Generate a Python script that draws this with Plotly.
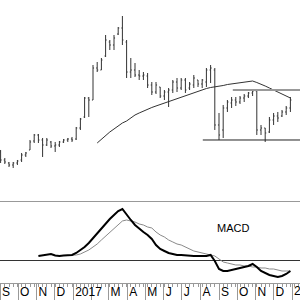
import pandas as pd
import plotly.graph_objects as go

# Weekly bars (Fridays), Sep 2016 - Dec 2017
dates = pd.date_range("2016-09-02", periods=70, freq="7D")

opens = [48, 40, 37, 35, 37, 40, 45, 50, 59, 65, 60, 55, 58, 54, 55, 58, 60, 61, 61, 72,
         83, 102, 100, 132, 130, 144, 158, 155, 166, 172, 158, 128, 130, 125, 124, 124, 115, 108, 113, 104,
         108, 110, 118, 112, 120, 112, 115, 120, 116, 118, 130, 130, 75, 70, 92, 97, 100, 98, 102, 104,
         107, 109, 70, 72, 68, 80, 84, 84, 88, 92]
highs = [50, 42, 38, 38, 40, 47, 48, 60, 66, 66, 62, 62, 59, 58, 59, 61, 62, 63, 73, 82,
         103, 103, 135, 138, 142, 165, 160, 165, 173, 184, 160, 142, 137, 130, 128, 127, 118, 118, 113, 110,
         112, 120, 122, 122, 122, 118, 125, 120, 121, 132, 135, 132, 87, 95, 100, 103, 103, 104, 106, 108,
         111, 110, 75, 72, 83, 87, 88, 90, 94, 103]
lows = [37, 36, 33, 32, 35, 38, 43, 50, 57, 57, 43, 54, 52, 48, 53, 57, 58, 58, 60, 70,
        82, 83, 100, 128, 130, 143, 150, 150, 165, 155, 122, 122, 123, 120, 120, 112, 105, 106, 102, 100,
        93, 107, 108, 110, 107, 110, 112, 113, 112, 113, 117, 70, 60, 62, 88, 92, 94, 96, 98, 102,
        104, 65, 65, 58, 67, 75, 78, 83, 85, 88]
closes = [40, 38, 35, 37, 39, 45, 47, 58, 65, 60, 55, 60, 54, 55, 58, 60, 61, 60, 72, 81,
          102, 100, 132, 130, 140, 160, 155, 162, 172, 160, 128, 130, 125, 124, 125, 115, 108, 115, 104, 108,
          110, 118, 112, 120, 110, 116, 122, 116, 120, 130, 132, 75, 65, 92, 98, 100, 98, 102, 104, 107,
          109, 70, 72, 67, 80, 84, 82, 88, 92, 100]

# Long moving average (starts at week 23)
ma_start = 23
ma_values = [57, 61, 64, 68, 71, 74, 77, 79, 82, 85,
             87, 89, 91, 92.5, 94, 95.5, 97, 98.5, 100, 101.5,
             103, 104.5, 106, 107.5, 109, 110.5, 111.5, 112.5, 113, 114,
             114.5, 115.5, 116, 117, 117.5, 118, 118.5, 119,
             117.5, 116, 114, 112, 110, 108, 106, 104, 102]

# MACD and signal
macd_start = 9
macd_values = [5, 5.5, 6.5, 7, 5.5, 5, 5.5, 5.5, 6, 8,
               11, 14, 18, 23, 28, 33, 38, 42, 46, 50,
               52, 46, 41, 36, 32, 29, 26, 22, 16, 12,
               10, 8, 7, 6, 6, 5.5, 5, 5, 5, 5,
               5, 6, 0, -8, -10, -10, -9, -8, -7, -6,
               -5, -3, -6, -10, -12, -14, -15, -16, -15, -13,
               -10]
signal_start = 16
signal_values = [5.5, 5.5, 6, 7, 9, 11, 14, 17, 21, 25,
                 29, 33, 37, 40, 41, 40, 39, 37, 36, 34,
                 33, 29, 26, 24, 21, 19, 17, 16, 14, 12,
                 10, 9, 8, 7, 6, 5, 2, -1, -2, -3,
                 -4, -4, -5, -5, -6, -6, -7, -7, -8, -8,
                 -9, -10, -10, -10]

# Support / resistance levels
support_level = 60
support_from = "2017-08-05"
resistance_level = 110
resistance_from = "2017-09-24"

x_start = "2016-09-01"
x_end = "2018-01-14"

month_starts = pd.date_range("2016-09-01", "2017-12-01", freq="MS")
month_labels = ["S", "O", "N", "D", "2017", "", "M", "A", "M", "J", "J", "A", "S", "O", "N", "D"]
year_tick = "2018-01-01"
year_label = "2018"
all_month_ticks = list(month_starts) + [pd.Timestamp(year_tick)]

fig = go.Figure()

fig.add_trace(go.Ohlc(
    x=dates, open=opens, high=highs, low=lows, close=closes,
    increasing=dict(line=dict(color="#333333", width=1)),
    decreasing=dict(line=dict(color="#333333", width=1)),
    tickwidth=0.25, xaxis="x", yaxis="y", showlegend=False, hoverinfo="skip",
))

fig.add_trace(go.Scatter(
    x=dates[ma_start:ma_start + len(ma_values)], y=ma_values, mode="lines",
    line=dict(color="#333333", width=1), xaxis="x", yaxis="y", showlegend=False,
))

fig.add_trace(go.Scatter(
    x=[support_from, x_end], y=[support_level, support_level], mode="lines",
    line=dict(color="#222222", width=1), xaxis="x", yaxis="y", showlegend=False,
))
fig.add_trace(go.Scatter(
    x=[resistance_from, x_end], y=[resistance_level, resistance_level], mode="lines",
    line=dict(color="#999999", width=2), xaxis="x", yaxis="y", showlegend=False,
))

fig.add_trace(go.Scatter(
    x=dates[signal_start:signal_start + len(signal_values)], y=signal_values, mode="lines",
    line=dict(color="#8a8a8a", width=1), xaxis="x2", yaxis="y2", showlegend=False,
))
fig.add_trace(go.Scatter(
    x=dates[macd_start:macd_start + len(macd_values)], y=macd_values, mode="lines",
    line=dict(color="#000000", width=2), xaxis="x2", yaxis="y2", showlegend=False,
))
# invisible trace binding the label axis
fig.add_trace(go.Scatter(
    x=[dates[0]], y=[0], mode="markers", marker=dict(opacity=0),
    xaxis="x3", yaxis="y2", showlegend=False, hoverinfo="skip",
))

font_family = "Liberation Sans, Arial, sans-serif"

fig.update_layout(
    width=300, height=300,
    margin=dict(l=0, r=0, t=0, b=0, autoexpand=False),
    paper_bgcolor="white", plot_bgcolor="white",
    showlegend=False,
    font=dict(family=font_family, size=12, color="#000000"),
    xaxis=dict(domain=[0, 1], anchor="y", range=[x_start, x_end], visible=False,
               rangeslider=dict(visible=False), fixedrange=True, automargin=False),
    yaxis=dict(domain=[0.3267, 1], anchor="x", range=[-2, 200], visible=False, automargin=False),
    xaxis2=dict(domain=[0, 1], anchor="y2", range=[x_start, x_end], type="date",
                showline=True, linecolor="#999999", linewidth=1, mirror=True,
                showgrid=False, zeroline=False, automargin=False,
                ticks="outside", tickvals=all_month_ticks, ticklen=18, tickcolor="#999999",
                tickwidth=1, showticklabels=False,
                minor=dict(ticks="outside", ticklen=3, dtick=7 * 86400000, tick0="2016-09-02",
                           tickcolor="#999999", showgrid=False),
                rangeslider=dict(visible=False)),
    xaxis3=dict(overlaying="x2", anchor="y2", range=[x_start, x_end], type="date",
                showline=False, showgrid=False, zeroline=False, ticks="",
                tickvals=list(month_starts), ticktext=month_labels,
                ticklabelposition="outside right", ticklabelshift=2, showticklabels=True,
                tickangle=0, automargin=False,
                tickfont=dict(family=font_family, size=12, color="#000000")),
    yaxis2=dict(domain=[0.0567, 0.3267], anchor="x2", range=[-22, 59], automargin=False,
                showgrid=False, showticklabels=False, ticks="", showline=False,
                zeroline=True, zerolinecolor="#333333", zerolinewidth=1),
    annotations=[
        dict(text="MACD", xref="paper", yref="paper", x=0.777, y=0.24,
             xanchor="center", yanchor="middle", showarrow=False,
             font=dict(family=font_family, size=11, color="#000000")),
        dict(text=year_label, xref="x2", yref="paper", x=year_tick, y=0.0,
             xanchor="left", yanchor="bottom", showarrow=False, xshift=0, yshift=0,
             font=dict(family=font_family, size=12, color="#000000")),
    ],
)

fig.write_html("out.html")
